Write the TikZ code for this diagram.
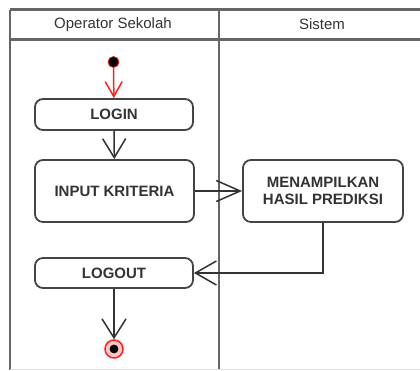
\documentclass[tikz,border=0pt]{standalone}
\usepackage{fontspec}
\setmainfont{Liberation Sans}
\usetikzlibrary{arrows.meta}
\definecolor{framecol}{HTML}{666666}
\definecolor{boxcol}{HTML}{444444}
\definecolor{txtcol}{HTML}{333333}
\definecolor{flowred}{HTML}{FF2020}
\begin{document}
\begin{tikzpicture}[x=1pt,y=-1pt,
  lane/.style={draw=framecol,line width=2.4pt},
  activity/.style={draw=boxcol,line width=1.8pt,rounded corners=8pt,
    fill=white,inner sep=0pt,align=center,text=txtcol,
    font=\fontsize{15}{17}\selectfont\bfseries},
  lanetitle/.style={text=txtcol,font=\fontsize{15}{17}\selectfont},
  flow/.style={draw=txtcol,line width=1.5pt},
  tip/.style args={#1/#2}{-{Straight Barb[length=#1pt,width=#2pt]}}
]
\useasboundingbox (0,0) rectangle (420,370);

% swimlane frame
\draw[lane] (10,9.5) -- (420,9.5);
\draw[lane] (10,39.5) -- (420,39.5);
\draw[lane] (10,9.5) -- (10,370);
\draw[lane] (219,9.5) -- (219,370);
\draw[draw=gray!25,line width=1pt] (10,369.5) -- (420,369.5);

\node[lanetitle] (laneA) at (113,24.5) {Operator Sekolah};
\node[lanetitle] (laneB) at (322,24.5) {Sistem};

% activities
\node[activity,minimum width=158pt,minimum height=31pt] (login) at (114,114.5) {LOGIN};
\node[activity,minimum width=159pt,minimum height=62pt] (input) at (114.5,191) {INPUT KRITERIA};
\node[activity,minimum width=160pt,minimum height=62pt] (hasil) at (323,191) {MENAMPILKAN\\HASIL PREDIKSI};
\node[activity,minimum width=158pt,minimum height=30pt] (logout) at (114,273) {LOGOUT};

% initial and final states
\node[circle,fill=black,draw=flowred,line width=0.8pt,minimum size=11pt,inner sep=0pt] (start) at (113.5,62) {};
\node[circle,minimum size=18pt,inner sep=0pt,draw=flowred,line width=1.5pt,fill=flowred!25,
  path picture={\fill[black] (path picture bounding box.center) circle (4.4pt);}] (final) at (114,349) {};

% transitions
\draw[flow,draw=flowred,tip=15/17] (start) -- (login);
\draw[flow,tip=19/23] (login) -- (input);
\draw[flow,tip=24/21] (input) -- (hasil);
\draw[flow,tip=21/24] (hasil.south) |- (logout.east);
\draw[flow,tip=19/24] (logout) -- (final);
\end{tikzpicture}
\end{document}
